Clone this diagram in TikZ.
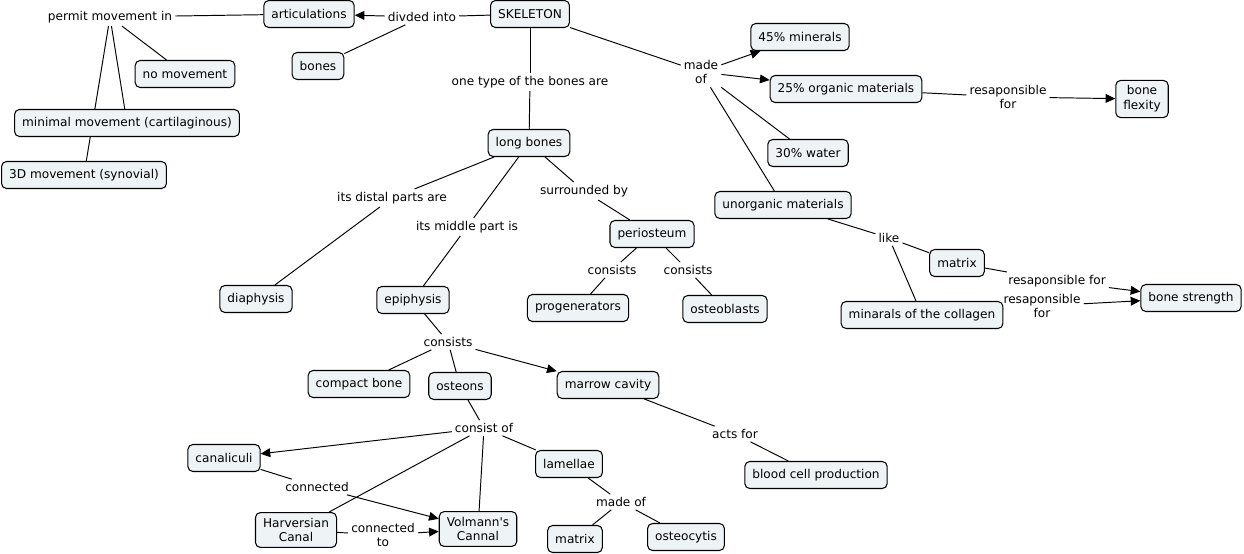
\documentclass[tikz,border=0pt]{standalone}
\usepackage{fontspec}
\setmainfont{DejaVu Sans}[Ligatures=TeXOff]
\usetikzlibrary{arrows.meta}
\definecolor{cfill}{HTML}{EEF3F6}
\pgfdeclarelayer{background}
\pgfsetlayers{background,main}
\begin{document}
\begin{tikzpicture}[x=0.02cm,y=-0.02cm,
 every node/.style={font=\fontsize{6.9}{8.5}\selectfont, text=black},
 concept/.style={draw=black, fill=cfill, rounded corners=2.8pt, line width=0.6pt, inner xsep=4.3pt, inner ysep=3pt, minimum height=0.54cm, align=center},
 lbl/.style={inner sep=1.6pt, align=center},
 con/.style={line width=0.55pt, draw=black},
 arr/.style={con, -{Triangle[length=5.5pt,width=5pt]}}]
\useasboundingbox (0,0) rectangle (1244,554);
% concepts
\node[concept] (art) at (309,14) {articulations};
\node[concept] (skel) at (530,14) {SKELETON};
\node[concept] (bones) at (318,66) {bones};
\node[concept] (nomov) at (185,74) {no movement};
\node[concept] (minmov) at (127,123) {minimal movement (cartilaginous)};
\node[concept] (threeD) at (84,175) {3D movement (synovial)};
\node[concept] (long) at (529,143) {long bones};
\node[concept] (min45) at (800,37) {45\% minerals};
\node[concept] (org25) at (846,89) {25\% organic materials};
\node[concept] (flex) at (1142,99) {bone\\flexity};
\node[concept] (water) at (808,153) {30\% water};
\node[concept] (unorg) at (783,205) {unorganic materials};
\node[concept] (perio) at (652,234) {periosteum};
\node[concept] (matR) at (957,263) {matrix};
\node[concept] (strength) at (1191,298) {bone strength};
\node[concept] (coll) at (922,315) {minarals of the collagen};
\node[concept] (dia) at (256,299) {diaphysis};
\node[concept] (epi) at (413,300) {epiphysis};
\node[concept] (prog) at (578,308) {progenerators};
\node[concept] (osteob) at (725,309) {osteoblasts};
\node[concept] (compact) at (359,384) {compact bone};
\node[concept] (osteons) at (460,386) {osteons};
\node[concept] (marrow) at (608,385) {marrow cavity};
\node[concept] (canal) at (224,458) {canaliculi};
\node[concept] (lam) at (569,464) {lamellae};
\node[concept] (blood) at (816,475) {blood cell production};
\node[concept] (harv) at (296,530) {Harversian\\Canal};
\node[concept] (volm) at (478,529) {Volmann's\\Cannal};
\node[concept] (matB) at (575,539) {matrix};
\node[concept] (osteoc) at (686,537) {osteocytis};
% link labels
\node[lbl] (l1) at (110,17) {permit movement in};
\node[lbl] (l2) at (422,17) {divded into};
\node[lbl] (l3) at (530,82) {one type of the bones are};
\node[lbl] (l4) at (701,72) {made\\of};
\node[lbl] (l5) at (1008,97) {resaponsible\\for};
\node[lbl] (l6) at (392,198) {its distal parts are};
\node[lbl] (l7) at (467,227) {its middle part is};
\node[lbl] (l8) at (584,191) {surrounded by};
\node[lbl] (l9) at (889,238) {like};
\node[lbl] (l10) at (612,270) {consists};
\node[lbl] (l11) at (688,270) {consists};
\node[lbl] (l12) at (1057,281) {resaponsible for};
\node[lbl] (l13) at (1042,306) {resaponsible\\for};
\node[lbl] (l14) at (448,342) {consists};
\node[lbl] (l15) at (484,428) {consist of};
\node[lbl] (l16) at (735,434) {acts for};
\node[lbl] (l17) at (317,487) {connected};
\node[lbl] (l18) at (621,502) {made of};
\node[lbl] (l19) at (383,535) {connected\\to};
% connectors
\begin{pgfonlayer}{background}
\draw[con] (art) -- (l1);
\draw[con] (l1) -- (nomov);
\draw[con] (l1) -- (minmov);
\draw[con] (l1) -- (threeD);
\draw[con] (skel) -- (l2);
\draw[arr] (l2) -- (art);
\draw[con] (l2) -- (bones);
\draw[con] (skel) -- (l3);
\draw[con] (l3) -- (long);
\draw[con] (skel) -- (l4);
\draw[arr] (l4) -- (min45);
\draw[arr] (l4) -- (org25);
\draw[con] (l4) -- (water);
\draw[con] (l4) -- (unorg);
\draw[con] (org25) -- (l5);
\draw[arr] (l5) -- (flex);
\draw[con] (long) -- (l6);
\draw[con] (l6) -- (dia);
\draw[con] (long) -- (l7);
\draw[con] (l7) -- (epi);
\draw[con] (long) -- (l8);
\draw[con] (l8) -- (perio);
\draw[con] (perio) -- (l10);
\draw[con] (l10) -- (prog);
\draw[con] (perio) -- (l11);
\draw[con] (l11) -- (osteob);
\draw[con] (unorg) -- (l9);
\draw[con] (l9) -- (matR);
\draw[con] (l9) -- (coll);
\draw[con] (matR) -- (l12);
\draw[arr] (l12) -- (strength);
\draw[con] (coll) -- (l13);
\draw[arr] (l13) -- (strength);
\draw[con] (epi) -- (l14);
\draw[con] (l14) -- (compact);
\draw[con] (l14) -- (osteons);
\draw[arr] (l14) -- (marrow);
\draw[con] (osteons) -- (l15);
\draw[arr] (l15) -- (canal);
\draw[con] (l15) -- (harv);
\draw[con] (l15) -- (volm);
\draw[con] (l15) -- (lam);
\draw[con] (marrow) -- (l16);
\draw[con] (l16) -- (blood);
\draw[con] (canal) -- (l17);
\draw[arr] (l17) -- (volm);
\draw[con] (harv) -- (l19);
\draw[arr] (l19) -- (volm);
\draw[con] (lam) -- (l18);
\draw[con] (l18) -- (matB);
\draw[con] (l18) -- (osteoc);
\end{pgfonlayer}
\end{tikzpicture}
\end{document}
